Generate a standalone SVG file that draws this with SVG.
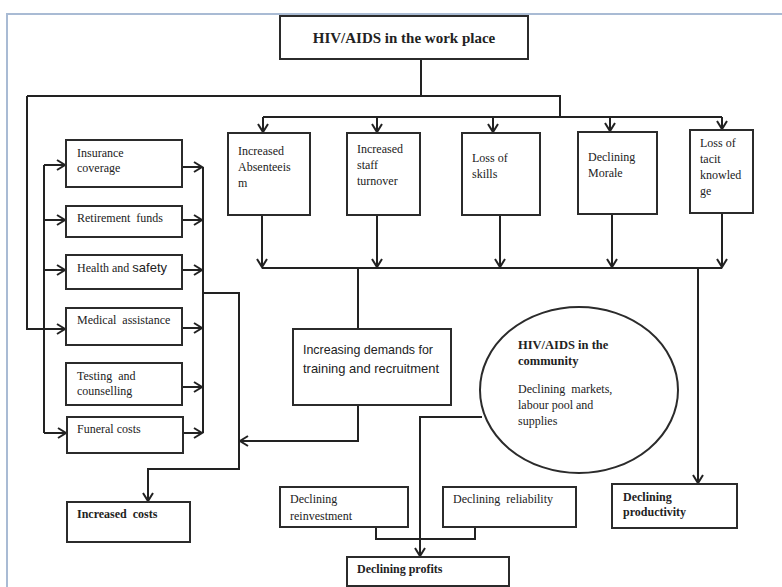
<svg xmlns="http://www.w3.org/2000/svg" width="782" height="587" viewBox="0 0 782 587">
<style>
.box{fill:#fff;stroke:#2b2b2b;stroke-width:2}
.ln{fill:none;stroke:#222;stroke-width:2}
.t{font-family:"Liberation Serif","Times New Roman",serif;font-size:12px;fill:#222}
.b{font-weight:bold}
.s{font-family:"Liberation Sans",Arial,sans-serif}
</style>
<defs>
<marker id="ah" markerWidth="12" markerHeight="12" refX="10" refY="6" orient="auto" markerUnits="userSpaceOnUse">
<path d="M2,1 L10,6 L2,11" fill="none" stroke="#222" stroke-width="2"/>
</marker>
</defs>
<rect width="782" height="587" fill="#fff"/>
<path d="M7,587 V14 H782" fill="none" stroke="#a9bbd4" stroke-width="2"/>

<g id="connectors">
<path class="ln" d="M421,59 V96" stroke-width="3"/>
<path class="ln" d="M27,96 H560 V117"/>
<path class="ln" d="M263,117 H722"/>
<path class="ln" d="M263,117 V132" marker-end="url(#ah)"/>
<path class="ln" d="M377,117 V132" marker-end="url(#ah)"/>
<path class="ln" d="M493,117 V132" marker-end="url(#ah)"/>
<path class="ln" d="M610,117 V131" marker-end="url(#ah)"/>
<path class="ln" d="M722,117 V129" marker-end="url(#ah)"/>
<path class="ln" d="M27,96 V329 H65" marker-end="url(#ah)"/>
<path class="ln" d="M44,165 V433"/>
<path class="ln" d="M44,165 H65" marker-end="url(#ah)"/>
<path class="ln" d="M44,220 H65" marker-end="url(#ah)"/>
<path class="ln" d="M44,270 H65" marker-end="url(#ah)"/>
<path class="ln" d="M44,433 H66" marker-end="url(#ah)"/>
<path class="ln" d="M203,167 V433"/>
<path class="ln" d="M182,167 H202" marker-end="url(#ah)"/>
<path class="ln" d="M182,220 H202" marker-end="url(#ah)"/>
<path class="ln" d="M182,270 H202" marker-end="url(#ah)"/>
<path class="ln" d="M182,328 H202" marker-end="url(#ah)"/>
<path class="ln" d="M182,387 H202" marker-end="url(#ah)"/>
<path class="ln" d="M183,433 H202" marker-end="url(#ah)"/>
<path class="ln" d="M203,293 H239 V469 H148 V501" marker-end="url(#ah)"/>
<path class="ln" d="M262,268 H722"/>
<path class="ln" d="M262,215 V267" marker-end="url(#ah)"/>
<path class="ln" d="M377,215 V267" marker-end="url(#ah)"/>
<path class="ln" d="M500,213 V267" marker-end="url(#ah)"/>
<path class="ln" d="M612,214 V267" marker-end="url(#ah)"/>
<path class="ln" d="M722,213 V267" marker-end="url(#ah)"/>
<path class="ln" d="M358,268 V329"/>
<path class="ln" d="M358,405 V441 H240" marker-end="url(#ah)"/>
<path class="ln" d="M698,268 V483" marker-end="url(#ah)"/>
<path class="ln" d="M482,417 H420 V556" marker-end="url(#ah)"/>
<path class="ln" d="M376,527 V539 H475 V527"/>
</g>

<g id="title"><rect class="box" x="280" y="16" width="248" height="43"/>
<text class="t b" x="404" y="43" font-size="15" text-anchor="middle" style="font-size:15px">HIV/AIDS in the work place</text></g>

<g id="absenteeism"><rect class="box" x="228" y="133" width="82" height="82"/>
<text class="t" x="238" y="155">Increased</text><text class="t" x="238" y="171">Absenteeis</text><text class="t" x="238" y="187">m</text></g>
<g id="turnover"><rect class="box" x="347" y="133" width="73" height="82"/>
<text class="t" x="357" y="153">Increased</text><text class="t" x="357" y="169">staff</text><text class="t" x="357" y="185">turnover</text></g>
<g id="skills"><rect class="box" x="462" y="133" width="78" height="82"/>
<text class="t" x="472" y="162">Loss of</text><text class="t" x="472" y="178">skills</text></g>
<g id="morale"><rect class="box" x="578" y="132" width="79" height="82"/>
<text class="t" x="588" y="161">Declining</text><text class="t" x="588" y="177">Morale</text></g>
<g id="tacit"><rect class="box" x="690" y="130" width="63" height="83"/>
<text class="t" x="700" y="147">Loss of</text><text class="t" x="700" y="163">tacit</text><text class="t" x="700" y="179">knowled</text><text class="t" x="700" y="195">ge</text></g>

<g id="insurance"><rect class="box" x="66" y="140" width="116" height="47"/>
<text class="t" x="77" y="157">Insurance</text><text class="t" x="77" y="172">coverage</text></g>
<g id="retirement"><rect class="box" x="66" y="206" width="116" height="31"/>
<text class="t" x="77" y="222" xml:space="preserve">Retirement  funds</text></g>
<g id="health"><rect class="box" x="66" y="255" width="116" height="34"/>
<text class="t" x="77" y="272">Health and <tspan class="s" font-size="13">safety</tspan></text></g>
<g id="medical"><rect class="box" x="66" y="308" width="116" height="37"/>
<text class="t" x="77" y="324" xml:space="preserve">Medical  assistance</text></g>
<g id="testing"><rect class="box" x="66" y="363" width="116" height="42"/>
<text class="t" x="77" y="380" xml:space="preserve">Testing  and</text><text class="t" x="77" y="395">counselling</text></g>
<g id="funeral"><rect class="box" x="67" y="417" width="116" height="36"/>
<text class="t" x="77" y="433">Funeral costs</text></g>

<g id="demands"><rect class="box" x="293" y="329" width="158" height="76"/>
<text class="s" x="303" y="354" font-size="13.5" fill="#222" textLength="130" lengthAdjust="spacingAndGlyphs">Increasing demands for</text>
<text class="s" x="303" y="373" font-size="13.5" fill="#222" textLength="136" lengthAdjust="spacingAndGlyphs">training and recruitment</text></g>

<g id="community"><ellipse class="box" cx="579" cy="390" rx="99" ry="83"/>
<text class="t b" x="518" y="349" style="font-size:12.5px">HIV/AIDS in the</text>
<text class="t b" x="518" y="365" style="font-size:12.5px">community</text>
<text class="t" x="518" y="393" xml:space="preserve">Declining  markets,</text>
<text class="t" x="518" y="409">labour pool and</text>
<text class="t" x="518" y="425">supplies</text></g>

<g id="costs"><rect class="box" x="67" y="502" width="123" height="40"/>
<text class="t b" x="77" y="518" xml:space="preserve">Increased  costs</text></g>
<g id="reinvestment"><rect class="box" x="280" y="487" width="128" height="40"/>
<text class="t" x="290" y="503">Declining</text><text class="t" x="290" y="520">reinvestment</text></g>
<g id="reliability"><rect class="box" x="443" y="487" width="133" height="40"/>
<text class="t" x="453" y="503" xml:space="preserve">Declining  reliability</text></g>
<g id="profits"><rect class="box" x="347" y="557" width="162" height="29"/>
<text class="t b" x="357" y="573">Declining profits</text></g>
<g id="productivity"><rect class="box" x="612" y="484" width="125" height="44"/>
<text class="t b" x="623" y="501">Declining</text><text class="t b" x="623" y="516">productivity</text></g>
</svg>
